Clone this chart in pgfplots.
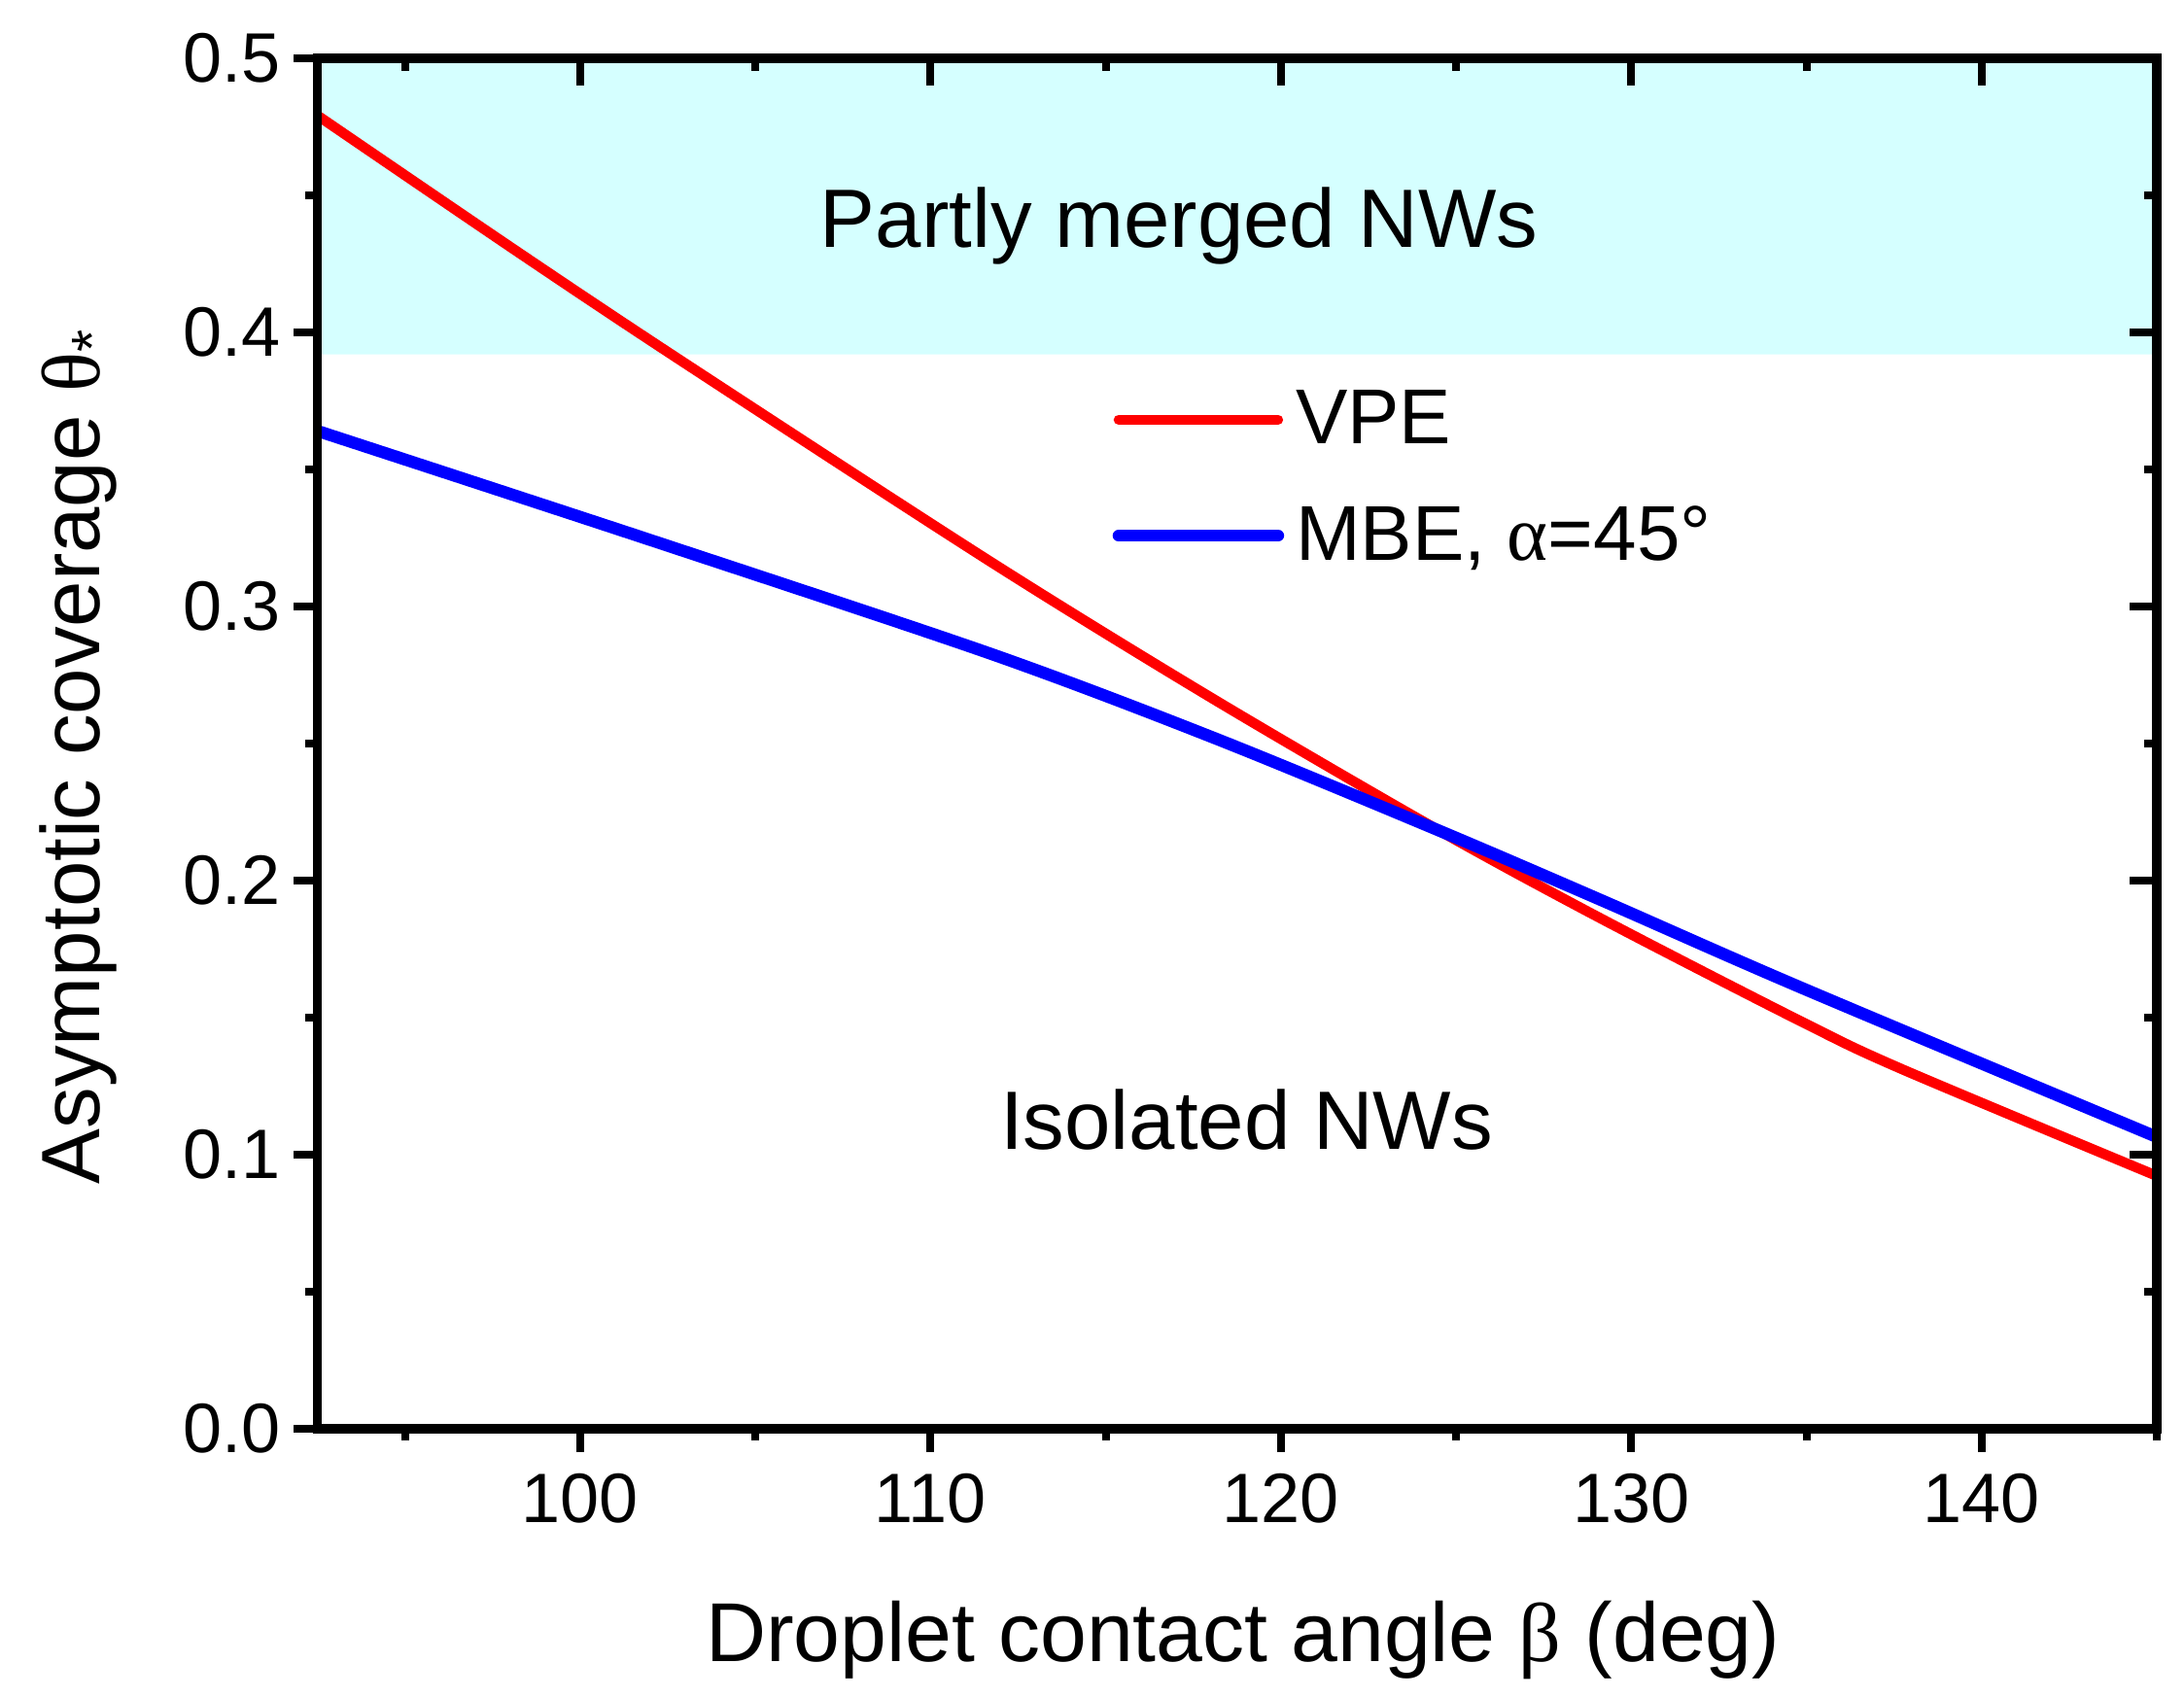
\documentclass[border=0pt]{standalone}
\usepackage{pgfplots}
\pgfplotsset{compat=1.18}
\usepackage{fontspec}
\setmainfont{Liberation Sans}
\newfontfamily\grk{Liberation Serif}
\definecolor{cyanbg}{RGB}{213,255,255}
\definecolor{vpe}{RGB}{255,0,0}
\definecolor{mbe}{RGB}{0,0,255}

\pgfplotstableread{
x y
92.5 0.4792
98.23 0.4293
102.87 0.3898
111.76 0.3160
118.15 0.2657
124.53 0.2182
129.18 0.1859
134.81 0.1489
137.68 0.1315
145.0 0.0923
}\vpedata

\pgfplotstableread{
x y
92.5 0.3641
102.12 0.3238
111.76 0.2826
118.15 0.2518
124.53 0.2182
129.18 0.1927
134.81 0.1612
145.0 0.1065
}\mbedata

\begin{document}
\begin{tikzpicture}
\useasboundingbox (-81.6pt,-69pt) rectangle (480.1pt,367.5pt);
\begin{axis}[
  at={(0,0)}, anchor=south west, scale only axis,
  width=473.1pt, height=352.5pt,
  xmin=92.5, xmax=145, ymin=0, ymax=0.5,
  axis on top,
  xtick={100,110,120,130,140},
  minor xtick={95,105,115,125,135,145},
  ytick={0,0.1,0.2,0.3,0.4,0.5},
  minor ytick={0.05,0.15,0.25,0.35,0.45},
  tick pos=left, tick align=outside,
  major tick length=6pt, minor tick length=3pt,
  every tick/.style={black, line width=2pt},
  axis line style={black, line width=2.4pt},
  /pgf/number format/assume math mode=true,
  ticklabel style={font=\fontsize{18}{20}\selectfont},
  yticklabel style={/pgf/number format/.cd, fixed, fixed zerofill, precision=1},
  xticklabel style={yshift=-2pt, /pgf/number format/.cd, fixed, precision=0},
  xlabel={Droplet contact angle {\grk β} (deg)},
  ylabel={Asymptotic coverage {\grk θ}\textsubscript{*}},
  every axis x label/.style={at={(axis description cs:0.5032,-0.1248)}, anchor=north, inner sep=0pt, font=\fontsize{21.5}{24}\selectfont},
  every axis y label/.style={at={(axis description cs:-0.1513,0.491)}, rotate=90, anchor=north, inner sep=0pt, font=\fontsize{21.3}{24}\selectfont},
  legend style={draw=none, fill=none, at={(axis cs:115.2,0.379)}, anchor=north west,
    inner sep=0pt, outer sep=0pt, font=\fontsize{20}{22}\selectfont,
    row sep=14.5pt, column sep=3pt, nodes={inner sep=0pt}, cells={anchor=west}},
  legend image code/.code={\draw[#1, line cap=round] (0pt,0pt) -- (41pt,0pt);},
]
\addplot[draw=none, fill=cyanbg, forget plot] coordinates {(92.5,0.392) (145,0.392) (145,0.5) (92.5,0.5) (92.5,0.392)};
\addplot[vpe, line width=2.6pt, smooth] table {\vpedata};
\addlegendentry{VPE}
\addplot[mbe, line width=3.1pt, smooth] table {\mbedata};
\addlegendentry{MBE, {\grk α}=45°}
\node[anchor=base, font=\fontsize{21.3}{24}\selectfont] at (axis cs:117.1,0.4309) {Partly merged NWs};
\node[anchor=base, font=\fontsize{21.3}{24}\selectfont] at (axis cs:119.02,0.1019) {Isolated NWs};
\end{axis}
\begin{axis}[
  at={(0,0)}, anchor=south west, scale only axis,
  width=473.1pt, height=352.5pt,
  xmin=92.5, xmax=145, ymin=0, ymax=0.5,
  xtick={100,110,120,130,140},
  minor xtick={95,105,115,125,135,145},
  ytick={0,0.1,0.2,0.3,0.4,0.5},
  minor ytick={0.05,0.15,0.25,0.35,0.45},
  tick pos=right, tick align=inside,
  major tick length=7pt, minor tick length=3.3pt,
  every tick/.style={black, line width=2pt},
  axis line style={draw=none},
  xticklabels={}, yticklabels={},
]
\end{axis}
\end{tikzpicture}
\end{document}
